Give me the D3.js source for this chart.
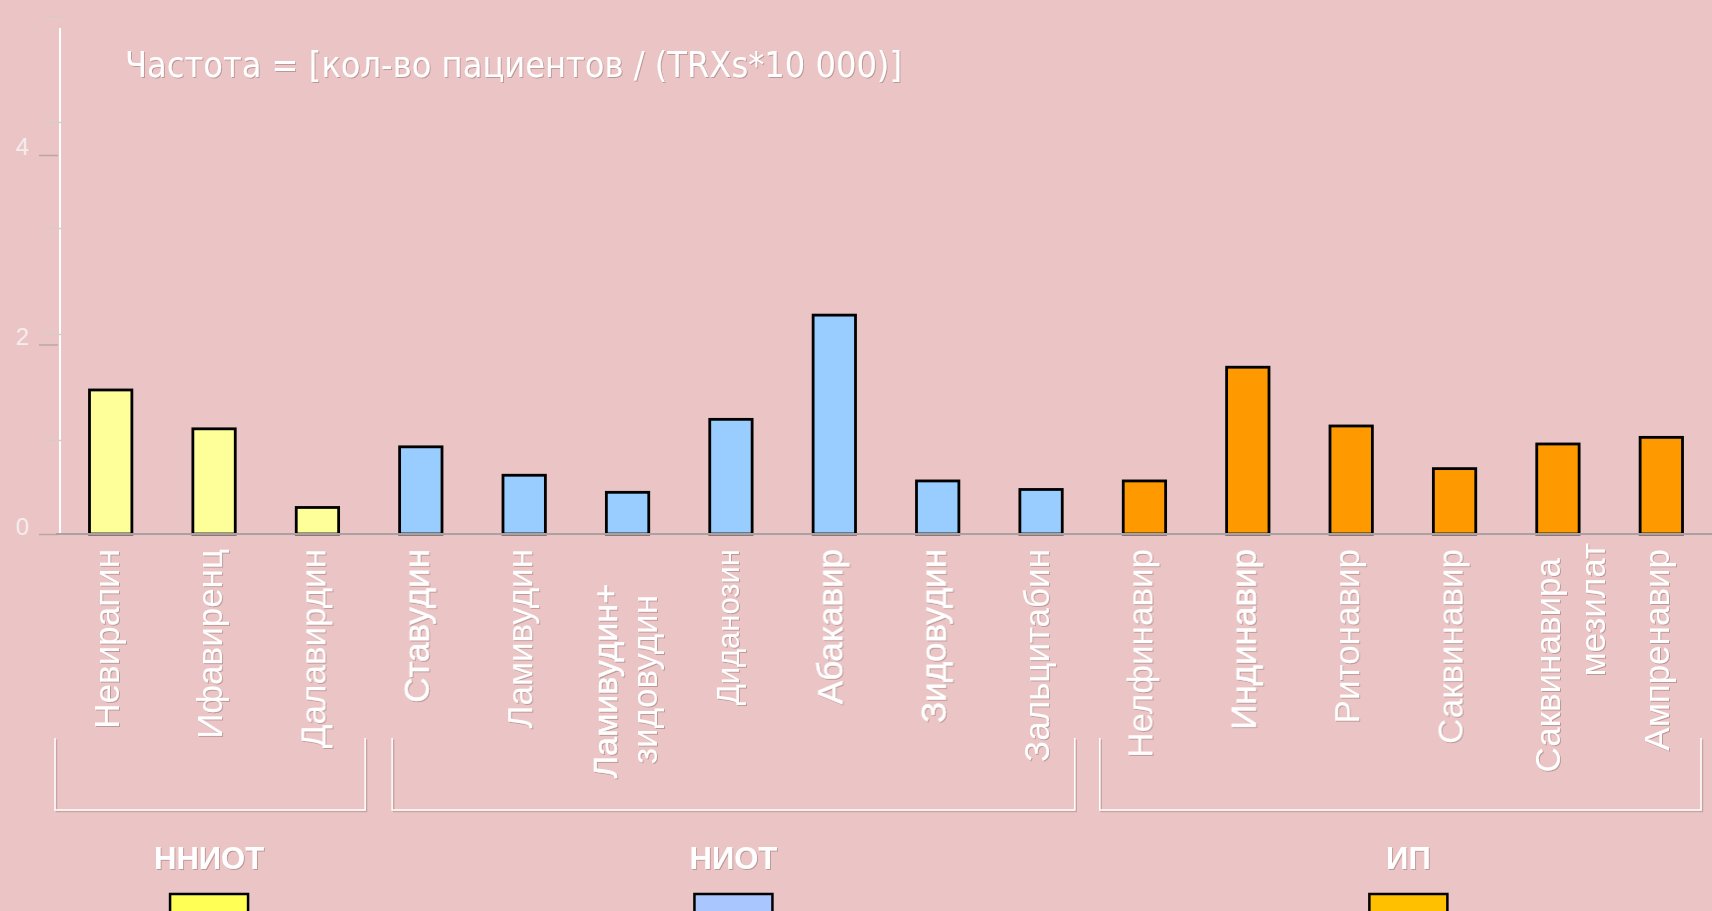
<!DOCTYPE html>
<html>
<head>
<meta charset="utf-8">
<script src="https://cdn.jsdelivr.net/npm/d3@7"></script>
<style>
  html, body { margin: 0; padding: 0; background: #ebc5c5; }
  svg { display: block; }
</style>
</head>
<body>
<div id="chart"></div>
<script>
// data
const categories = ["Невирапин", "Ифавиренц", "Далавирдин", "Ставудин", "Ламивудин",
  "Ламивудин+\nзидовудин", "Диданозин", "Абакавир", "Зидовудин", "Зальцитабин",
  "Нелфинавир", "Индинавир", "Ритонавир", "Саквинавир", "Саквинавира\nмезилат", "Ампренавир"];
const values = [1.52, 1.11, 0.28, 0.92, 0.62, 0.44, 1.21, 2.31, 0.56, 0.47,
  0.56, 1.76, 1.14, 0.69, 0.95, 1.02];
const groupOf = ["ННИОТ", "ННИОТ", "ННИОТ", "НИОТ", "НИОТ", "НИОТ", "НИОТ", "НИОТ", "НИОТ", "НИОТ",
  "ИП", "ИП", "ИП", "ИП", "ИП", "ИП"];
const groups = ["ННИОТ", "НИОТ", "ИП"];
const yTicks = [0, 2, 4];
const minorTicks = [1, 2, 3, 4, 5];
const title = "Частота = [кол-во пациентов / (TRXs*10 000)]";

const W = 1712, H = 911;
const barFill = {"ННИОТ": "#ffff99", "НИОТ": "#99ccff", "ИП": "#ff9900"};
const swatchFill = {"ННИОТ": "#ffff55", "НИОТ": "#a9c6ff", "ИП": "#ffc000"};

const svg = d3.select("#chart").append("svg")
  .attr("width", W).attr("height", H);

svg.append("rect").attr("width", W).attr("height", H).attr("fill", "#ebc5c5");

const defs = svg.append("defs");
defs.append("filter").attr("id", "shadow")
  .attr("x", "-5%").attr("y", "-5%").attr("width", "110%").attr("height", "110%")
  .append("feDropShadow")
  .attr("dx", 1).attr("dy", 1).attr("stdDeviation", 0.4)
  .attr("flood-color", "#a07878").attr("flood-opacity", 0.6);

const x = d3.scaleBand()
  .domain(categories)
  .range([59, 1713])
  .paddingInner(0.59)
  .paddingOuter(0.295);

const y = d3.scaleLinear().domain([0, 5.34]).range([534, 28]);
// second, unlabeled tick row that the original shows slightly out of step
const yMinor = d3.scaleLinear().domain([0, 5]).range([546, 16]);

// title
svg.append("text")
  .attr("x", 125).attr("y", 77)
  .attr("fill", "#ffffff")
  .attr("filter", "url(#shadow)")
  .style("font-family", "'DejaVu Sans Condensed', 'DejaVu Sans', sans-serif")
  .style("font-size", "35px")
  .attr("textLength", 777)
  .attr("lengthAdjust", "spacingAndGlyphs")
  .text(title);

// y axis line
svg.append("line")
  .attr("x1", 60).attr("x2", 60)
  .attr("y1", y.range()[1]).attr("y2", y(0))
  .attr("stroke", "#ffffff").attr("stroke-width", 2);

const minorAxis = svg.append("g")
  .attr("transform", "translate(62,0)")
  .call(d3.axisLeft(yMinor).tickValues(minorTicks).tickSize(18).tickFormat(""));
minorAxis.select(".domain").remove();
minorAxis.selectAll("line").attr("stroke", "#d9c9c9").attr("stroke-width", 1.5);

const yAxis = svg.append("g")
  .attr("transform", "translate(58,0)")
  .call(d3.axisLeft(y).tickValues(yTicks).tickSize(19).tickPadding(10).tickFormat(d3.format("d")));
yAxis.select(".domain").remove();
yAxis.selectAll("line").attr("stroke", "#b9a7a7").attr("stroke-width", 1.5);
yAxis.selectAll("text")
  .attr("dy", "0")
  .attr("fill", "#f5eded")
  .style("font-family", "'Liberation Sans', Arial, sans-serif")
  .style("font-size", "24px");

// bars
svg.append("g").selectAll("rect")
  .data(categories)
  .join("rect")
  .attr("x", d => x(d))
  .attr("y", (d, i) => y(values[i]))
  .attr("width", x.bandwidth())
  .attr("height", (d, i) => y(0) - y(values[i]))
  .attr("fill", (d, i) => barFill[groupOf[i]])
  .attr("stroke", "#000000")
  .attr("stroke-width", 2.8);

// base line
svg.append("line")
  .attr("x1", 56).attr("x2", W)
  .attr("y1", y(0)).attr("y2", y(0))
  .attr("stroke", "#aaa2a2").attr("stroke-width", 2);

// category labels, rotated
const lineLayout = {
  5: [{dx: -11, end: 584, size: 34}, {dx: 29, end: 595, size: 35}],
  14: [{dx: 2, end: 558, size: 35}, {dx: 47, end: 543, size: 35}]
};
const labelSize = {"Диданозин": 31};
const heavier = ["Ставудин", "Абакавир", "Зидовудин", "Индинавир", "Ламивудин+"];

const labels = svg.append("g").attr("filter", "url(#shadow)");
categories.forEach((c, i) => {
  const cx = x(c) + x.bandwidth() / 2;
  const lines = c.split("\n");
  lines.forEach((ln, j) => {
    const lay = lineLayout[i] ? lineLayout[i][j] : {dx: 8, end: 549, size: labelSize[ln] || 35};
    labels.append("text")
      .attr("transform", `translate(${cx + lay.dx},${lay.end}) rotate(-90)`)
      .attr("text-anchor", "end")
      .attr("fill", "#ffffff")
      .attr("stroke", heavier.includes(ln) ? "#ffffff" : "none")
      .attr("stroke-width", 0.45)
      .style("font-family", "'Liberation Sans', Arial, sans-serif")
      .style("font-size", lay.size + "px")
      .text(ln);
  });
});

// group brackets, names and swatches
const bound = k => x.range()[0] + k * x.step();
const bracketInset = [[-4, 4], [23, 18], [7, 12]];
const legendShift = [-1, 0, 8];
groups.forEach((g, gi) => {
  const first = groupOf.indexOf(g);
  const last = groupOf.lastIndexOf(g);
  const x0 = bound(first) + bracketInset[gi][0];
  const x1 = bound(last + 1) - bracketInset[gi][1];
  const top = 738, bottom = 810;
  const path = `M${x0},${top}V${bottom}H${x1}V${top}`;
  svg.append("path").attr("d", path).attr("transform", "translate(1.5,1.5)")
    .attr("fill", "none").attr("stroke", "#c6a4a4").attr("stroke-width", 1.5);
  svg.append("path").attr("d", path)
    .attr("fill", "none").attr("stroke", "#ffffff").attr("stroke-width", 1.5);

  const mid = (x0 + x1) / 2 + legendShift[gi];
  svg.append("text")
    .attr("x", mid).attr("y", 869)
    .attr("text-anchor", "middle")
    .attr("fill", "#ffffff")
    .attr("filter", "url(#shadow)")
    .style("font-family", "'Liberation Sans', Arial, sans-serif")
    .style("font-weight", "bold")
    .style("font-size", "31px")
    .text(g);

  svg.append("rect")
    .attr("x", mid - 39).attr("y", 894)
    .attr("width", 78).attr("height", 22)
    .attr("fill", swatchFill[g])
    .attr("stroke", "#000000").attr("stroke-width", 2.5);
});
</script>
</body>
</html>
